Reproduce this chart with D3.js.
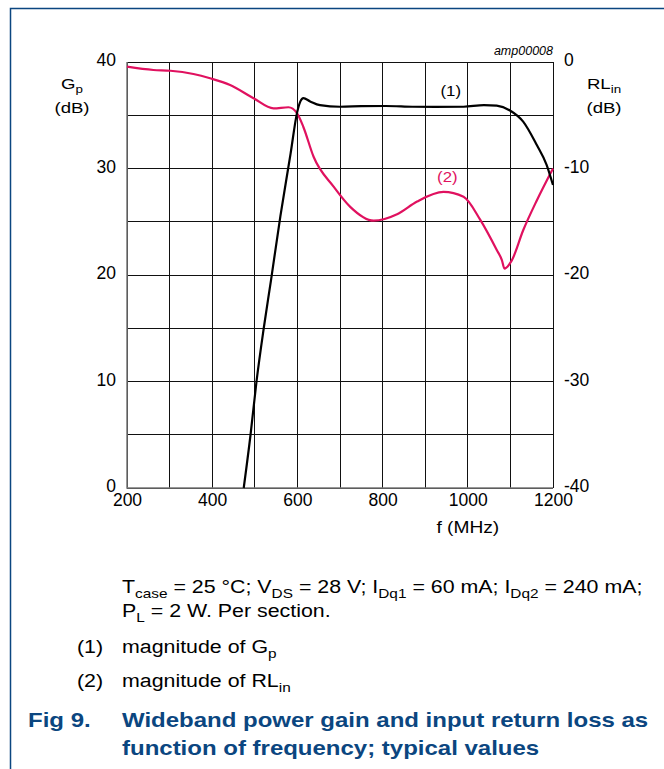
<!DOCTYPE html>
<html lang="en">
<head>
<meta charset="UTF-8">
<title>Wideband power gain and input return loss</title>
<script src="https://cdn.jsdelivr.net/npm/d3@7/dist/d3.min.js"></script>
<style>
    body { margin: 0; background: #fff; }
    svg text { font-family: "Liberation Sans", Arial, sans-serif; fill: #000; }
    .grid line { stroke: #111; stroke-width: 1; shape-rendering: crispEdges; }
    .note { font-size: 17.8px; }
    .caption { font-size: 20px; font-weight: bold; fill: #0b4680; }
</style>
</head>
<body>
<script>
    // frequency axis ticks (MHz)
    var xTicks = [200, 400, 600, 800, 1000, 1200];
    var gpTicks = [0, 10, 20, 30, 40];
    var rlTicks = [0, -10, -20, -30, -40];

    // (1) power gain Gp, dB
    var gpFreq = [474, 490, 504, 521, 538, 560, 584, 599, 607, 614, 630, 653, 700, 750, 807, 870, 924, 990, 1038, 1068, 1099, 1130, 1162, 1185, 1200];
    var gpVal  = [0, 5, 10, 15, 19.5, 25.5, 31.4, 35.2, 36.3, 36.6, 36.3, 35.95, 35.8, 35.85, 35.87, 35.8, 35.78, 35.8, 35.96, 35.9, 35.45, 34.4, 32.2, 30.35, 28.45];

    // (2) input return loss RLin, dB
    var rlFreq = [200, 262, 302, 356, 395, 442, 497, 544, 579, 599, 614, 638, 685, 724, 779, 834, 881, 943, 990, 1029, 1068, 1080, 1086, 1103, 1130, 1162, 1200];
    var rlVal  = [-0.44, -0.75, -0.82, -1.13, -1.53, -2.16, -3.4, -4.35, -4.25, -4.8, -6.1, -8.9, -11.7, -13.6, -14.9, -14.3, -13.1, -12.2, -12.65, -14.8, -17.65, -18.6, -19.4, -18.65, -15.8, -13.0, -10.0];

    var width = 664, height = 769;
    var padding = {left: 127, right: 111, top: 62, bottom: 281};
    var w = width - padding.left - padding.right;
    var h = height - padding.top - padding.bottom;
    var stretch = 1.2;   // text in the reference is a little wide

    var svg = d3.select("body").append("svg")
        .attr("width", width)
        .attr("height", height);

    // blue frame (top and left only)
    svg.append("path")
        .attr("d", "M10.5," + height + "V8.5H" + width)
        .attr("fill", "none")
        .attr("stroke", "#0b4680")
        .attr("stroke-width", 1.5);

    var xScale = d3.scaleLinear().domain([200, 1200]).range([0, w]);
    var yLeft = d3.scaleLinear().domain([0, 40]).range([h, 0]);
    var yRight = d3.scaleLinear().domain([-40, 0]).range([h, 0]);

    var g = svg.append("g")
        .attr("transform", "translate(" + padding.left + "," + padding.top + ")");

    // grid
    var grid = g.append("g").attr("class", "grid");
    grid.selectAll(".vx")
        .data(d3.range(200, 1201, 100))
        .enter().append("line")
        .attr("x1", function(d){ return xScale(d); })
        .attr("x2", function(d){ return xScale(d); })
        .attr("y1", 0).attr("y2", h);
    grid.selectAll(".hy")
        .data(d3.range(0, 41, 5))
        .enter().append("line")
        .attr("x1", 0).attr("x2", w)
        .attr("y1", function(d){ return yLeft(d); })
        .attr("y2", function(d){ return yLeft(d); });

    // plot border (grey left/bottom)
    g.append("path")
        .attr("d", "M0,0V" + h + "H" + w)
        .attr("fill", "none")
        .attr("stroke", "#777")
        .attr("stroke-width", 1.5);

    function plain(d){ return String(d); }
    function tickStyle(s){
        s.select(".domain").remove();
        s.selectAll("text")
            .style("font-size", "17.5px")
            .style("font-family", "'Liberation Sans', Arial, sans-serif");
    }

    // axes
    var xAxis = d3.axisBottom(xScale).tickValues(xTicks).tickFormat(plain).tickSize(0).tickPadding(6);
    g.append("g")
        .attr("transform", "translate(0," + h + ")")
        .call(xAxis)
        .call(tickStyle);

    var leftAxis = d3.axisLeft(yLeft).tickValues(gpTicks).tickFormat(plain).tickSize(0).tickPadding(11);
    g.append("g").call(leftAxis)
        .call(tickStyle)
        .selectAll("text").attr("dy", "0.2em");

    var rightAxis = d3.axisRight(yRight).tickValues(rlTicks).tickFormat(plain).tickSize(0).tickPadding(11);
    g.append("g")
        .attr("transform", "translate(" + w + ",0)")
        .call(rightAxis)
        .call(tickStyle)
        .selectAll("text").attr("dy", "0.2em");

    // curves
    var gpLine = d3.line()
        .x(function(d){ return xScale(d[0]); })
        .y(function(d){ return yLeft(d[1]); })
        .curve(d3.curveMonotoneX);
    var rlLine = d3.line()
        .x(function(d){ return xScale(d[0]); })
        .y(function(d){ return yRight(d[1]); })
        .curve(d3.curveMonotoneX);

    g.append("path")
        .datum(d3.zip(rlFreq, rlVal))
        .attr("d", rlLine)
        .attr("fill", "none")
        .attr("stroke", "#e0115f")
        .attr("stroke-width", 2.2);

    g.append("path")
        .datum(d3.zip(gpFreq, gpVal))
        .attr("d", gpLine)
        .attr("fill", "none")
        .attr("stroke", "#000")
        .attr("stroke-width", 2.2);

    // text helper: stretched, with optional subscripts {sub: "..."}
    function rich(x, y, parts, cls, size, anchor, shift) {
        var sh = shift || 5;
        var t = svg.append("text")
            .attr("transform", "translate(" + x + "," + y + ") scale(" + stretch + ",1)")
            .attr("class", cls || null)
            .attr("text-anchor", anchor || "start");
        if (size) t.style("font-size", size + "px");
        var low = false;
        parts.forEach(function(p){
            if (typeof p === "string") {
                t.append("tspan").attr("dy", low ? -sh : 0).text(p);
                low = false;
            } else {
                t.append("tspan").attr("dy", low ? 0 : sh).style("font-size", "0.72em").text(p.sub);
                low = true;
            }
        });
        return t;
    }

    rich(padding.left + xScale(960), padding.top + yLeft(36.8), ["(1)"], null, 14, "middle");
    rich(padding.left + xScale(952), padding.top + yLeft(28.7), ["(2)"], null, 14, "middle")
        .style("fill", "#e0115f");

    // chart id
    svg.append("text").attr("x", padding.left + w).attr("y", 55)
        .attr("text-anchor", "end").style("font-size", "12.5px").style("font-style", "italic")
        .text("amp00008");

    // axis titles
    rich(72, 89, ["G", {sub: "p"}], null, 15.5, "middle", 3.5);
    rich(72, 113, ["(dB)"], null, 15.5, "middle");
    rich(604, 89, ["RL", {sub: "in"}], null, 15.5, "middle", 3.5);
    rich(604, 113, ["(dB)"], null, 15.5, "middle");
    rich(padding.left + xScale(1000), 533, ["f (MHz)"], null, 16, "middle");

    // notes
    rich(122, 593, ["T", {sub: "case"}, " = 25 \u00B0C; V", {sub: "DS"}, " = 28 V; I", {sub: "Dq1"}, " = 60 mA; I", {sub: "Dq2"}, " = 240 mA;"], "note");
    rich(122, 617, ["P", {sub: "L"}, " = 2 W. Per section."], "note");
    rich(77, 653, ["(1)"], "note");
    rich(122, 653, ["magnitude of G", {sub: "p"}], "note");
    rich(77, 687, ["(2)"], "note");
    rich(122, 687, ["magnitude of RL", {sub: "in"}], "note");

    rich(28, 727, ["Fig 9."], "caption");
    rich(122, 727, ["Wideband power gain and input return loss as"], "caption");
    rich(122, 755, ["function of frequency; typical values"], "caption");
</script>
</body>
</html>
